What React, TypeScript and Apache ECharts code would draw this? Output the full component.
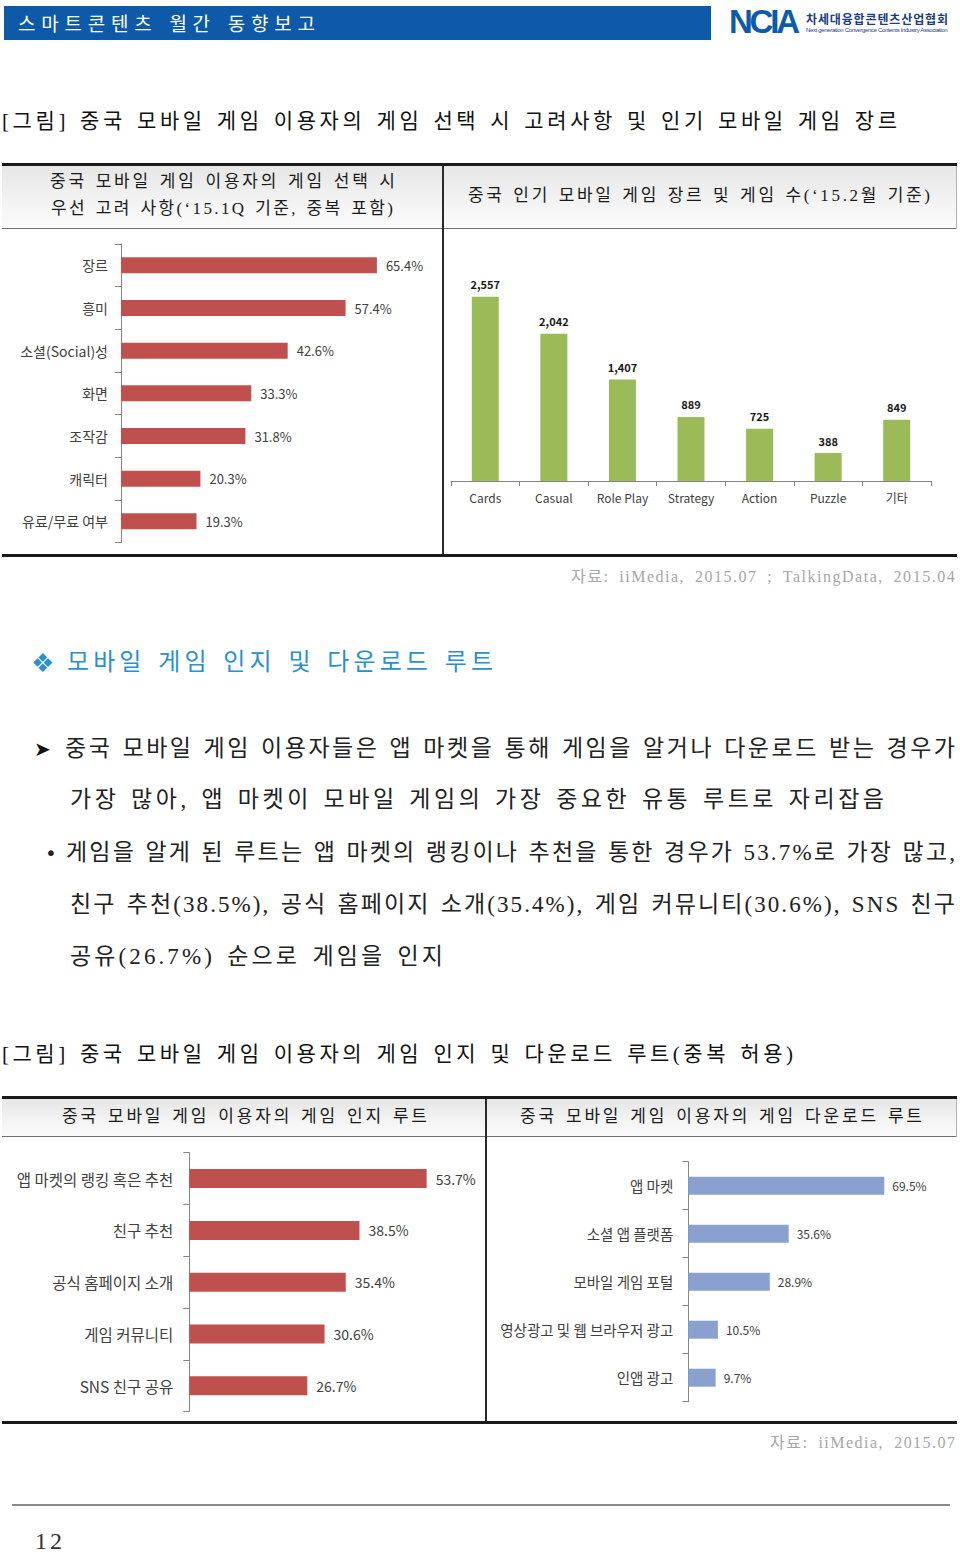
import React, { useEffect, useRef } from "react";
import * as echarts from "echarts";

// ---------- data ----------
const choiceCats = ["장르", "흥미", "소셜(Social)성", "화면", "조작감", "캐릭터", "유료/무료 여부"];
const choiceVals = [65.4, 57.4, 42.6, 33.3, 31.8, 20.3, 19.3];

const genreCats = ["Cards", "Casual", "Role Play", "Strategy", "Action", "Puzzle", "기타"];
const genreVals = [2557, 2042, 1407, 889, 725, 388, 849];

const awareCats = ["앱 마켓의 랭킹 혹은 추천", "친구 추천", "공식 홈페이지 소개", "게임 커뮤니티", "SNS 친구 공유"];
const awareVals = [53.7, 38.5, 35.4, 30.6, 26.7];

const downCats = ["앱 마켓", "소셜 앱 플랫폼", "모바일 게임 포털", "영상광고 및 웹 브라우저 광고", "인앱 광고"];
const downVals = [69.5, 35.6, 28.9, 10.5, 9.7];

// ---------- fonts ----------
const KR = '"Noto Sans CJK KR", sans-serif';
const SERIF = '"Liberation Serif", "Noto Sans CJK KR", serif';

let _ctx: CanvasRenderingContext2D | null = null;
function measure(text: string, font: string): number {
  if (!_ctx) {
    const c = document.createElement("canvas");
    _ctx = c.getContext("2d");
  }
  if (!_ctx) return 0;
  _ctx.font = font;
  return _ctx.measureText(text).width;
}

type FitProps = {
  x: number;
  y: number;
  w: number;
  text: string;
  size: number;
  family?: string;
  color?: string;
  weight?: number;
  wordShare?: number;
};

function FitText({ x, y, w, text, size, family = SERIF, color = "#1e1e1e", weight = 400, wordShare = 0.15 }: FitProps) {
  const font = `${weight} ${size}px ${family}`;
  const nat = measure(text, font);
  const n = Array.from(text).length;
  const nSpaces = (text.match(/ /g) || []).length;
  const extra = w - nat;
  let ls = 0;
  let ws = 0;
  if (nSpaces > 0 && n > 1 && extra > 0) {
    ls = (extra * (1 - wordShare)) / (n - 1);
    ws = (extra * wordShare) / nSpaces;
  } else if (n > 1) {
    ls = extra / (n - 1);
  }
  const h = Math.round(size * 1.4);
  return (
    <div
      style={{
        position: "absolute",
        left: x,
        top: y - h / 2,
        height: h,
        lineHeight: `${h}px`,
        fontSize: size,
        fontFamily: family,
        fontWeight: weight,
        color,
        letterSpacing: `${ls}px`,
        wordSpacing: `${ws}px`,
        whiteSpace: "nowrap",
      }}
    >
      {text}
    </div>
  );
}

function Box({ x, y, w, h, bg }: { x: number; y: number; w: number; h: number; bg: string }) {
  return <div style={{ position: "absolute", left: x, top: y, width: w, height: h, background: bg }} />;
}

const AXIS_COLOR = "#868686";
const LABEL_COLOR = "#404040";

export default function App() {
  const ref = useRef<HTMLDivElement>(null);

  useEffect(() => {
    if (!ref.current) return;
    const chart = echarts.init(ref.current, undefined, { renderer: "svg" });
    const catAxisCommon = {
      axisLine: { show: true, lineStyle: { color: AXIS_COLOR, width: 1 } },
      axisTick: { show: true, lineStyle: { color: AXIS_COLOR } },
      splitLine: { show: false },
    };
    chart.setOption({
      animation: false,
      backgroundColor: "transparent",
      textStyle: { fontFamily: KR },
      grid: [
        { left: 121, top: 244, width: 313, height: 298.7 },
        { left: 451, top: 264.7, width: 480, height: 216.3 },
        { left: 189.3, top: 1152.7, width: 265.2, height: 259 },
        { left: 688.3, top: 1161.7, width: 225.6, height: 240 },
      ],
      xAxis: [
        { type: "value", gridIndex: 0, min: 0, max: 80, show: false, splitLine: { show: false } },
        {
          type: "category",
          gridIndex: 1,
          data: genreCats,
          ...catAxisCommon,
          axisTick: { show: true, length: 5, lineStyle: { color: AXIS_COLOR } },
          axisLabel: { interval: 0, fontSize: 12, color: LABEL_COLOR, margin: 10, fontFamily: KR },
        },
        { type: "value", gridIndex: 2, min: 0, max: 60, show: false, splitLine: { show: false } },
        { type: "value", gridIndex: 3, min: 0, max: 80, show: false, splitLine: { show: false } },
      ],
      yAxis: [
        {
          type: "category",
          gridIndex: 0,
          data: choiceCats,
          inverse: true,
          ...catAxisCommon,
          axisTick: { show: true, length: 6, lineStyle: { color: AXIS_COLOR } },
          axisLabel: { interval: 0, fontSize: 14, color: LABEL_COLOR, margin: 13, fontFamily: KR },
        },
        { type: "value", gridIndex: 1, min: 0, max: 3000, show: false, splitLine: { show: false } },
        {
          type: "category",
          gridIndex: 2,
          data: awareCats,
          inverse: true,
          ...catAxisCommon,
          axisTick: { show: true, length: 6, lineStyle: { color: AXIS_COLOR } },
          axisLabel: { interval: 0, fontSize: 15.5, color: LABEL_COLOR, margin: 16, fontFamily: KR },
        },
        {
          type: "category",
          gridIndex: 3,
          data: downCats,
          inverse: true,
          ...catAxisCommon,
          axisTick: { show: true, length: 6, lineStyle: { color: AXIS_COLOR } },
          axisLabel: { interval: 0, fontSize: 14.5, color: LABEL_COLOR, margin: 15, fontFamily: KR },
        },
      ],
      series: [
        {
          type: "bar",
          xAxisIndex: 0,
          yAxisIndex: 0,
          data: choiceVals,
          barWidth: 16,
          itemStyle: { color: "#c0504d" },
          label: {
            show: true,
            position: "right",
            distance: 9,
            formatter: "{c}%",
            fontSize: 13,
            color: LABEL_COLOR,
            fontFamily: KR,
          },
        },
        {
          type: "bar",
          xAxisIndex: 1,
          yAxisIndex: 1,
          data: genreVals,
          barWidth: 27,
          itemStyle: { color: "#9bbb59" },
          label: {
            show: true,
            position: "top",
            distance: 7,
            formatter: (p: any) => Number(p.value).toLocaleString("en-US"),
            fontSize: 11,
            fontWeight: "bold",
            color: "#1a1a1a",
            fontFamily: KR,
          },
        },
        {
          type: "bar",
          xAxisIndex: 2,
          yAxisIndex: 2,
          data: awareVals,
          barWidth: 19,
          itemStyle: { color: "#c0504d" },
          label: {
            show: true,
            position: "right",
            distance: 9,
            formatter: "{c}%",
            fontSize: 14,
            color: LABEL_COLOR,
            fontFamily: KR,
          },
        },
        {
          type: "bar",
          xAxisIndex: 3,
          yAxisIndex: 3,
          data: downVals,
          barWidth: 18,
          itemStyle: { color: "#8aa1cf" },
          label: {
            show: true,
            position: "right",
            distance: 8,
            formatter: "{c}%",
            fontSize: 12,
            color: LABEL_COLOR,
            fontFamily: KR,
          },
        },
      ],
    });
    return () => chart.dispose();
  }, []);

  const headerGrad = "linear-gradient(to bottom, #e6e6e6 0%, #f4f4f4 60%, #fbfbfb 100%)";

  return (
    <div
      style={{
        position: "absolute",
        left: 0,
        top: 0,
        width: 960,
        height: 1554,
        background: "#ffffff",
        overflow: "hidden",
      }}
    >
      {/* top banner */}
      <Box x={4} y={6} w={707} h={34} bg="#0e5aa8" />

      {/* table 1 */}
      <Box x={2} y={166} w={955} h={63} bg={headerGrad} />
      <Box x={2} y={163} w={955} h={3} bg="#1a1a1a" />
      <Box x={2} y={228} w={955} h={1} bg="#6e6e6e" />
      <Box x={956} y={166} w={1} h={63} bg="#b0b0b0" />
      <Box x={442} y={166} w={2} h={389} bg="#2a2a2a" />
      <Box x={2} y={554} w={955} h={3} bg="#1a1a1a" />

      {/* table 2 */}
      <Box x={2} y={1099} w={955} h={38} bg={headerGrad} />
      <Box x={2} y={1096} w={955} h={3} bg="#1a1a1a" />
      <Box x={2} y={1136} w={955} h={1} bg="#6e6e6e" />
      <Box x={956} y={1099} w={1} h={38} bg="#b0b0b0" />
      <Box x={485} y={1099} w={2} h={323} bg="#2a2a2a" />
      <Box x={2} y={1421} w={955} h={3} bg="#1a1a1a" />

      {/* footer line */}
      <Box x={12} y={1504} w={938} h={2} bg="#8a8a8a" />

      {/* charts */}
      <div ref={ref} style={{ position: "absolute", left: 0, top: 0, width: 960, height: 1554 }} />

      {/* banner texts */}
      <FitText x={18} y={22} w={297} text="스마트콘텐츠 월간 동향보고" size={19} color="#ffffff" family={KR} wordShare={0.05} />
      <FitText x={729} y={22} w={71} text="NCIA" size={33} weight={700} color="#0f5bab" family='"Liberation Sans", Arial, sans-serif' />
      <FitText x={806} y={18} w={142} text="차세대융합콘텐츠산업협회" size={12} weight={700} color="#1d3c84" family={KR} />
      <FitText x={806} y={30} w={142} text="Next generation Convergence Contents Industry Association" size={6} color="#1d3c84" family='"Liberation Sans", Arial, sans-serif' />

      {/* title 1 */}
      <FitText x={2} y={121} w={895} text="[그림] 중국 모바일 게임 이용자의 게임 선택 시 고려사항 및 인기 모바일 게임 장르" size={21} color="#111111" />

      {/* table 1 headers */}
      <FitText x={50} y={182} w={345} text="중국 모바일 게임 이용자의 게임 선택 시" size={17} color="#1a1a1a" />
      <FitText x={51} y={209} w={342} text="우선 고려 사항(‘15.1Q 기준, 중복 포함)" size={17} color="#1a1a1a" />
      <FitText x={468} y={196} w={462} text="중국 인기 모바일 게임 장르 및 게임 수(‘15.2월 기준)" size={17} color="#1a1a1a" />

      {/* source 1 */}
      <FitText x={571} y={577} w={384} text="자료: iiMedia, 2015.07 ; TalkingData, 2015.04" size={16} color="#a6a6a6" wordShare={0.25} />

      {/* section heading */}
      <FitText x={31} y={663} w={21} text="❖" size={26} color="#2a8fd3" family='"DejaVu Sans", sans-serif' />
      <FitText x={67} y={662} w={426} text="모바일 게임 인지 및 다운로드 루트" size={24} color="#2a8fd3" />

      {/* body text */}
      <FitText x={34} y={749} w={21} text="➤" size={20} color="#111111" family='"DejaVu Sans", sans-serif' />
      <FitText x={65} y={749} w={890} text="중국 모바일 게임 이용자들은 앱 마켓을 통해 게임을 알거나 다운로드 받는 경우가" size={23} color="#222222" />
      <FitText x={70} y={800} w={814} text="가장 많아, 앱 마켓이 모바일 게임의 가장 중요한 유통 루트로 자리잡음" size={23} color="#222222" />
      <FitText x={45} y={853} w={8} text="•" size={20} color="#222222" family='"DejaVu Sans", sans-serif' />
      <FitText x={66} y={853} w={889} text="게임을 알게 된 루트는 앱 마켓의 랭킹이나 추천을 통한 경우가 53.7%로 가장 많고," size={23} color="#222222" />
      <FitText x={70} y={905} w={885} text="친구 추천(38.5%), 공식 홈페이지 소개(35.4%), 게임 커뮤니티(30.6%), SNS 친구" size={23} color="#222222" />
      <FitText x={70} y={957} w={373} text="공유(26.7%) 순으로 게임을 인지" size={23} color="#222222" />

      {/* title 2 */}
      <FitText x={2} y={1054} w={791} text="[그림] 중국 모바일 게임 이용자의 게임 인지 및 다운로드 루트(중복 허용)" size={21} color="#111111" />

      {/* table 2 headers */}
      <FitText x={62} y={1117} w={365} text="중국 모바일 게임 이용자의 게임 인지 루트" size={17} color="#1a1a1a" />
      <FitText x={520} y={1117} w={402} text="중국 모바일 게임 이용자의 게임 다운로드 루트" size={17} color="#1a1a1a" />

      {/* source 2 */}
      <FitText x={770} y={1443} w={185} text="자료: iiMedia, 2015.07" size={16} color="#a6a6a6" wordShare={0.25} />

      {/* page number */}
      <FitText x={35} y={1541} w={27} text="12" size={24} color="#333333" />
    </div>
  );
}
